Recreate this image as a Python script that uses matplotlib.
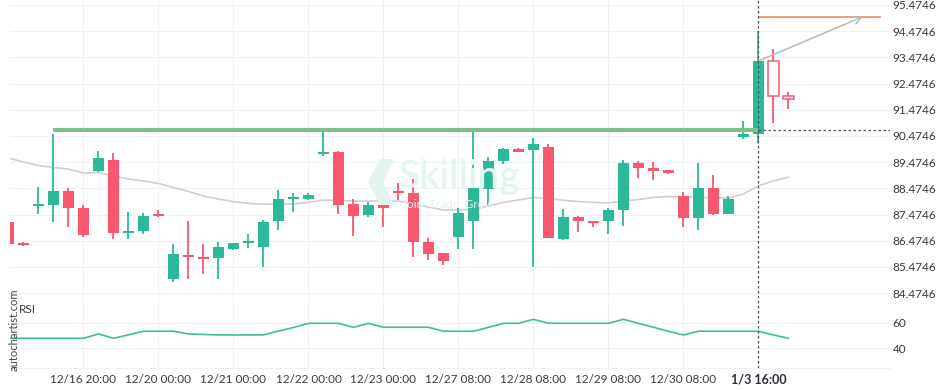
import numpy as np
import matplotlib
matplotlib.use('Agg')
import matplotlib.pyplot as plt
from matplotlib.patches import Polygon

plt.rcParams['font.family'] = ['Lato', 'DejaVu Sans']

# candles (one every 15 px in the reference)
opens = [87.19, 86.39, 87.81, 87.85, 88.38, 87.72, 89.15, 89.56, 86.78, 86.86,
         87.46, 85.03, 85.93, 85.87, 85.83, 86.17, 86.39, 86.25, 87.24, 88.08,
         88.07, 89.80, 89.87, 87.88, 87.46, 87.84, 88.34, 88.30, 86.43, 86.01,
         86.63, 87.24, 88.46, 89.52, 89.98, 89.95, 90.05, 86.55, 87.38, 87.23,
         87.24, 87.65, 89.44, 89.25, 89.18, 88.18, 87.36, 88.49, 87.51, 90.45,
         90.56, 93.33, 92.00]
highs = [87.22, 86.41, 88.53, 90.55, 88.48, 87.84, 89.90, 89.81, 87.57, 87.52,
         87.65, 86.34, 87.23, 86.34, 86.43, 86.39, 86.73, 87.27, 88.41, 88.30,
         88.30, 90.64, 89.90, 88.06, 87.97, 87.94, 88.68, 88.82, 86.58, 86.02,
         87.72, 90.66, 89.68, 90.03, 90.02, 90.40, 90.17, 87.68, 87.42, 87.23,
         87.72, 89.55, 89.51, 89.49, 89.18, 88.33, 89.43, 88.99, 88.18, 91.05,
         94.48, 93.80, 92.15]
lows = [86.33, 86.28, 87.51, 87.18, 87.01, 86.63, 89.09, 86.54, 86.54, 86.72,
        87.40, 84.91, 85.00, 85.22, 85.00, 86.14, 86.21, 85.49, 86.88, 87.56,
        88.03, 89.72, 87.49, 86.67, 87.37, 87.01, 88.03, 85.85, 85.74, 85.54,
        86.16, 86.16, 87.84, 89.39, 89.85, 85.47, 86.57, 86.50, 86.82, 87.01,
        86.72, 87.05, 88.88, 88.78, 89.02, 87.01, 86.88, 87.45, 87.51, 90.35,
        90.22, 90.98, 91.52]
closes = [86.36, 86.31, 87.88, 88.38, 87.74, 86.70, 89.63, 86.78, 86.85, 87.42,
          87.42, 85.97, 85.87, 85.79, 86.24, 86.39, 86.43, 87.19, 88.07, 88.12,
          88.22, 89.83, 87.84, 87.43, 87.84, 87.73, 88.31, 86.44, 85.98, 85.72,
          87.54, 88.49, 89.52, 89.98, 89.86, 90.17, 86.59, 87.38, 87.24, 87.17,
          87.65, 89.44, 89.26, 89.14, 89.07, 87.36, 88.49, 87.51, 88.07, 90.55,
          93.34, 92.01, 91.87]
hollow = [51, 52]

moving_avg = [89.63, 89.48, 89.35, 89.27, 89.21, 89.06, 89.08, 88.95, 88.83, 88.76,
              88.66, 88.51, 88.36, 88.18, 88.07, 87.97, 87.90, 87.87, 87.87, 87.88,
              87.94, 88.03, 88.01, 87.99, 87.99, 87.99, 87.99, 87.88, 87.76, 87.65,
              87.65, 87.68, 87.80, 87.94, 88.03, 88.13, 88.09, 88.02, 87.97, 87.94,
              87.92, 87.99, 88.05, 88.13, 88.16, 88.15, 88.13, 88.12, 88.10, 88.26,
              88.57, 88.76, 88.90]

rsi = [47.8, 47.8, 47.8, 47.8, 47.8, 47.8, 51.2, 47.8, 50.5, 53.3,
       53.3, 53.3, 51.2, 50.8, 50.4, 50.4, 50.4, 50.4, 53.5, 56.2,
       59.5, 59.5, 59.5, 56.4, 59.5, 56.4, 56.4, 56.4, 56.4, 53.3,
       53.3, 53.3, 56.4, 59.5, 59.5, 62.6, 59.5, 59.5, 59.5, 59.5,
       59.5, 62.6, 59.5, 56.4, 53.3, 50.4, 53.3, 53.3, 53.3, 53.3,
       53.3, 50.4, 47.8]

tick_idx = [5, 10, 15, 20, 25, 30, 35, 40, 45, 50]
tick_labels = ['12/16 20:00', '12/20 00:00', '12/21 00:00', '12/22 00:00', '12/23 00:00',
               '12/27 08:00', '12/28 08:00', '12/29 08:00', '12/30 08:00', '1/3 16:00']
price_ticks = [84.4746, 85.4746, 86.4746, 87.4746, 88.4746, 89.4746,
               90.4746, 91.4746, 92.4746, 93.4746, 94.4746, 95.4746]
rsi_ticks = [40, 60]

level = 90.70          # resistance line
level_start = 3
signal_idx = 50
target = 95.03
target_end = 58.2
arrow_end = 56.97

GREEN = '#2bb99a'
RED = '#f8586d'
GRID = '#eef2f6'
TXT = '#3a3a3a'
WM = '#e4f5f0'

fig = plt.figure(figsize=(9.36, 3.9), dpi=100)
ax = fig.add_axes([10 / 936, 92 / 390, 880 / 936, 298 / 390])
ax2 = fig.add_axes([10 / 936, 22 / 390, 880 / 936, 68 / 390], sharex=ax)

x = np.arange(len(opens))
xlim = (0.1, 58.77)

# watermark
fig.text(399 / 936, 1 - 188 / 390, 'Skilling', fontsize=28, fontweight='semibold',
         color=WM, zorder=0)
fig.text(402 / 936, 1 - 208 / 390, 'Join. Trade. Grow.', fontsize=8.5,
         color=WM, zorder=0)
fig.patches.append(Polygon([[380 / 936, 1 - 159 / 390], [394 / 936, 1 - 159 / 390],
                            [383 / 936, 1 - 182 / 390], [394 / 936, 1 - 205 / 390],
                            [380 / 936, 1 - 205 / 390], [368 / 936, 1 - 182 / 390]],
                           closed=True, transform=fig.transFigure,
                           facecolor=WM, edgecolor='none', zorder=0))
ax.patch.set_alpha(0)
ax2.patch.set_alpha(0)

# moving average
ax.plot(x, moving_avg, color='#cfcfcf', lw=1.2, zorder=2)

# candles
for i in x:
    o, h, l, c = opens[i], highs[i], lows[i], closes[i]
    col = GREEN if c >= o else RED
    ax.vlines(i, l, h, color=col, lw=1.3, zorder=3)
    bot = min(o, c)
    hgt = max(abs(c - o), 0.06)
    if i in hollow:
        ax.bar(i, hgt, bottom=bot, width=0.73, facecolor='white', edgecolor=col,
               lw=1.1, zorder=4)
    else:
        ax.bar(i, hgt, bottom=bot, width=0.73, color=col, lw=0, zorder=4)

# resistance, target and arrow
ax.hlines(level, level_start, signal_idx, color='#7dbf8d', lw=3, zorder=5)
ax.hlines(level, signal_idx, xlim[1], color='#555555', lw=0.9, ls=(0, (2, 2)), zorder=5)
ax.hlines(target, signal_idx, target_end, color='#f28a5b', lw=1.2, zorder=5)
ax.annotate('', xy=(arrow_end, target), xytext=(signal_idx, closes[signal_idx]),
            arrowprops=dict(arrowstyle='->', color='#b8b8b8', lw=1.1,
                            mutation_scale=14, shrinkA=0, shrinkB=0), zorder=5)
for a in (ax, ax2):
    a.axvline(signal_idx, color='#555555', lw=0.9, ls=(0, (2, 2)), zorder=5)

ax.set_xlim(*xlim)
ax.set_ylim(84.29, 95.665)
ax.set_yticks(price_ticks)
ax.set_yticklabels([f'{p:.4f}' for p in price_ticks])
ax.yaxis.tick_right()
ax.tick_params(axis='y', length=0, pad=2, labelsize=8.5, labelcolor=TXT)
ax.tick_params(axis='x', length=0, labelbottom=False)
ax.set_xticks(tick_idx)
ax.grid(True, color=GRID, lw=0.8, zorder=0)
for s in ax.spines.values():
    s.set_visible(False)

# RSI panel
ax2.plot(x, rsi, color='#3cbf9c', lw=1.2, zorder=3)
ax2.set_ylim(24.6, 77.7)
ax2.set_yticks(rsi_ticks)
ax2.yaxis.tick_right()
ax2.tick_params(axis='y', length=0, pad=2, labelsize=8.5, labelcolor=TXT)
ax2.set_xticks(tick_idx)
ax2.set_xticklabels(tick_labels)
ax2.tick_params(axis='x', length=0, pad=4, labelsize=8.5, labelcolor=TXT)
last = ax2.get_xticklabels()[-1]
last.set_fontsize(9)
last.set_fontweight('bold')
last.set_color('#2a2e39')
ax2.grid(True, color=GRID, lw=0.8, zorder=0)
for s in ax2.spines.values():
    s.set_visible(False)
ax2.spines['bottom'].set_visible(True)
ax2.spines['bottom'].set_color(GRID)
ax2.text(9 / 880, 0.86, 'RSI', transform=ax2.transAxes, fontsize=8.5, color=TXT,
         va='center', ha='left')

fig.text(14 / 936, 1 - 330 / 390, 'autochartist.com', rotation=90, fontsize=8,
         color='#444444', ha='center', va='center')

fig.savefig('out.png', dpi=100)
